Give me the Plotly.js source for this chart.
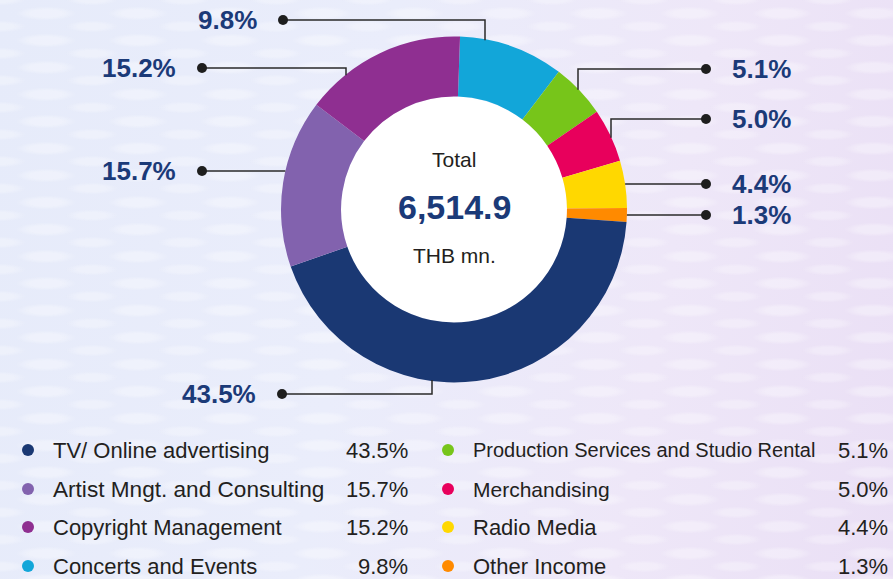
<!DOCTYPE html>
<html><head><meta charset="utf-8">
<script src="https://cdn.plot.ly/plotly-3.0.1.min.js"></script>
<style>
html,body{margin:0;padding:0;overflow:hidden;}
body{background:linear-gradient(100deg,#e6ebfa 0%,#eaedfb 40%,#eee7f8 72%,#eadff5 100%);position:relative;width:893px;height:579px;}
#tex{position:absolute;left:0;top:0;width:893px;height:579px;
  background-image:radial-gradient(ellipse 30px 7px at 50% 50%, rgba(255,255,255,0.32) 55%, rgba(255,255,255,0) 100%),
                   radial-gradient(ellipse 26px 6px at 50% 50%, rgba(255,255,255,0.28) 55%, rgba(255,255,255,0) 100%);
  background-size:92px 27px, 92px 27px; background-position:0 0, 46px 13px;}
#chart{position:absolute;left:0;top:0;width:893px;height:579px;}
</style></head><body><div id="tex"></div><div id="chart"></div>
<script>
// ---- data ----
const categories = ["Concerts and Events","Production Services and Studio Rental","Merchandising","Radio Media","Other Income","TV/ Online advertising","Artist Mngt. and Consulting","Copyright Management"];
const shares = [9.8, 5.1, 5.0, 4.4, 1.3, 43.5, 15.7, 15.2];
const sliceColors = ["#12a6d9","#77c51a","#e8005c","#ffd800","#ff8a00","#1a3873","#8262ae","#8f2f91"];
const totalValue = 6514.9;
const centerTop = "Total";
const centerUnit = "THB mn.";
const legendLeft = ["TV/ Online advertising","Artist Mngt. and Consulting","Copyright Management","Concerts and Events"];
const legendRight = ["Production Services and Studio Rental","Merchandising","Radio Media","Other Income"];

// ---- layout geometry (pixels) ----
const W = 893, H = 579;
const CX = 454, CY = 209.5, R = 173, HOLE = 0.653;
const labelPos = {
  "Concerts and Events": {side:"L", y:20, dot:283, elbow:485},
  "Production Services and Studio Rental": {side:"R", y:69, dot:706, elbow:578},
  "Merchandising": {side:"R", y:119, dot:706, elbow:611},
  "Radio Media": {side:"R", y:184, dot:706, elbow:null},
  "Other Income": {side:"R", y:215, dot:706, elbow:null},
  "TV/ Online advertising": {side:"L", y:394, dot:282, elbow:432},
  "Artist Mngt. and Consulting": {side:"L", y:171, dot:202, elbow:null},
  "Copyright Management": {side:"L", y:68, dot:202, elbow:346}
};
const legendFontSize = {"Production Services and Studio Rental":20, "Merchandising":21, "Artist Mngt. and Consulting":22.6};
const NAVY = "#1b3a78", INK = "#231f20", LINE = "#2a2a2a";
const FONT = "Liberation Sans, Arial, sans-serif";
const px = x => x / W, py = y => 1 - y / H;
const fmt = v => v.toFixed(1) + "%";

const shapes = [], annotations = [];
function dot(x, y, r, color) {
  shapes.push({type:"circle", xref:"paper", yref:"paper", x0:px(x-r), x1:px(x+r), y0:py(y+r), y1:py(y-r),
    fillcolor:color, line:{width:0}, layer:"above"});
}

categories.forEach((c, i) => {
  const p = labelPos[c];
  let ex, ey;
  if (p.elbow === null) {
    const dx = Math.sqrt(R*R - (p.y-CY)*(p.y-CY));
    ex = p.side === "L" ? CX - dx : CX + dx; ey = p.y;
    shapes.push({type:"line", xref:"paper", yref:"paper", x0:px(p.dot), y0:py(p.y), x1:px(ex), y1:py(p.y),
      line:{color:LINE, width:1.5}});
  } else {
    const dy = Math.sqrt(R*R - (p.elbow-CX)*(p.elbow-CX));
    ex = p.elbow; ey = p.y < CY ? CY - dy + 1 : CY + dy - 1;
    shapes.push({type:"path", xref:"paper", yref:"paper",
      path:`M ${px(p.dot)},${py(p.y)} L ${px(ex)},${py(p.y)} L ${px(ex)},${py(ey)}`,
      line:{color:LINE, width:1.5}});
  }
  dot(p.dot, p.y, 5, "#1e1e1e");
  annotations.push({xref:"paper", yref:"paper", showarrow:false,
    x: p.side === "L" ? px(p.dot - 24) : px(p.dot + 24), y: py(p.y),
    xanchor: p.side === "L" ? "right" : "left", yanchor:"middle",
    text:"<b>" + fmt(shares[i]) + "</b>", font:{family:FONT, size:26, color:NAVY}});
});

// center text
annotations.push({xref:"paper", yref:"paper", showarrow:false, x:px(CX), y:py(159), xanchor:"center", yanchor:"middle",
  text:centerTop, font:{family:FONT, size:21, color:INK}});
annotations.push({xref:"paper", yref:"paper", showarrow:false, x:px(CX), y:py(207), xanchor:"center", yanchor:"middle",
  text:"<b>" + totalValue.toLocaleString("en-US",{minimumFractionDigits:1}) + "</b>",
  font:{family:FONT, size:34, color:NAVY}});
annotations.push({xref:"paper", yref:"paper", showarrow:false, x:px(CX), y:py(255), xanchor:"center", yanchor:"middle",
  text:centerUnit, font:{family:FONT, size:21, color:INK}});

// legend
const rowY = [450, 489, 527, 566];
function legendCol(list, dotX, textX, pctX) {
  list.forEach((name, k) => {
    const i = categories.indexOf(name);
    dot(dotX, rowY[k], 6, sliceColors[i]);
    annotations.push({xref:"paper", yref:"paper", showarrow:false, x:px(textX), y:py(rowY[k]), xanchor:"left", yanchor:"middle",
      text:name, font:{family:FONT, size:legendFontSize[name] || 22, color:INK}});
    annotations.push({xref:"paper", yref:"paper", showarrow:false, x:px(pctX), y:py(rowY[k]), xanchor:"right", yanchor:"middle",
      text:fmt(shares[i]), font:{family:FONT, size:22, color:INK}});
  });
}
legendCol(legendLeft, 28, 51, 410);
legendCol(legendRight, 448, 471, 890);

const trace = {
  type:"pie", labels:categories, values:shares, sort:false, direction:"clockwise", rotation:2,
  hole:HOLE, textinfo:"none", showlegend:false, hoverinfo:"label+percent",
  marker:{colors:sliceColors, line:{width:0}},
  domain:{x:[px(CX-R), px(CX+R)], y:[py(CY+R), py(CY-R)]}
};
// white center disk
shapes.unshift({type:"circle", xref:"paper", yref:"paper", x0:px(CX-R*HOLE), x1:px(CX+R*HOLE), y0:py(CY+R*HOLE), y1:py(CY-R*HOLE),
  fillcolor:"#ffffff", line:{width:0}, layer:"below"});

Plotly.newPlot("chart", [trace], {
  width:W, height:H, margin:{l:0,r:0,t:0,b:0},
  paper_bgcolor:"rgba(0,0,0,0)", plot_bgcolor:"rgba(0,0,0,0)",
  shapes:shapes, annotations:annotations
}, {displayModeBar:false, staticPlot:true});
</script></body></html>
